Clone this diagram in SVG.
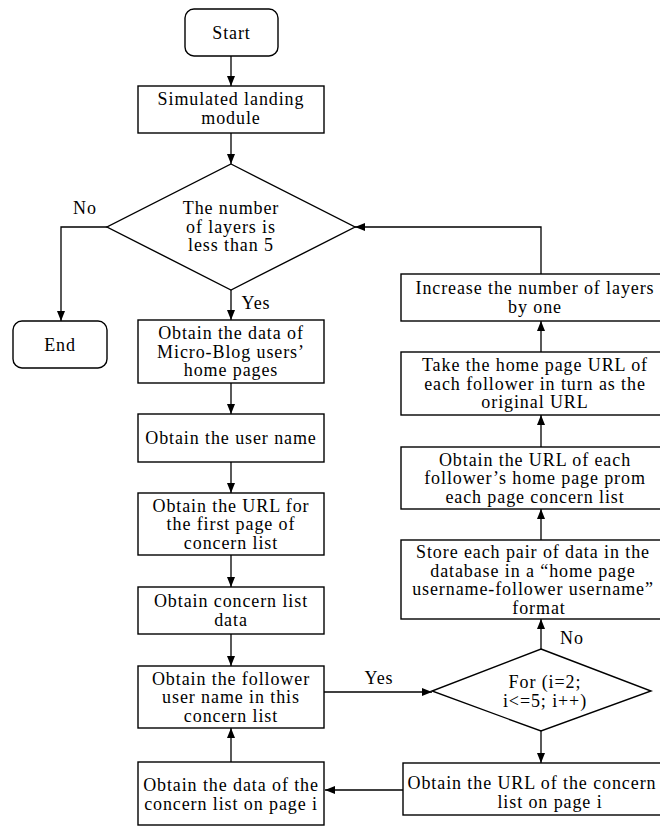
<svg xmlns="http://www.w3.org/2000/svg" width="660" height="827" viewBox="0 0 660 827">
<defs>
<marker id="ah" markerUnits="userSpaceOnUse" markerWidth="10" markerHeight="10" viewBox="0 0 10 10" refX="10" refY="5" orient="auto">
<path d="M0,1 L10,5 L0,9 Z" fill="#000"/>
</marker>
<style>
.b{fill:#fff;stroke:#000;stroke-width:1.4}
.c{fill:none;stroke:#000;stroke-width:1.3;marker-end:url(#ah)}
text{font-family:"Liberation Serif","Times New Roman",serif;font-size:18px;letter-spacing:0.9px;fill:#000;text-anchor:middle}
</style>
</defs>
<rect width="660" height="827" fill="#fff"/>

<g id="connectors">
<line class="c" x1="231" y1="56" x2="231" y2="86"/>
<line class="c" x1="231" y1="133" x2="231" y2="164"/>
<polyline class="c" points="107,227 61,227 61,321"/>
<line class="c" x1="231" y1="290" x2="231" y2="320"/>
<line class="c" x1="231" y1="383" x2="231" y2="414"/>
<line class="c" x1="231" y1="462" x2="231" y2="493"/>
<line class="c" x1="231" y1="555" x2="231" y2="587"/>
<line class="c" x1="231" y1="634" x2="231" y2="666"/>
<line class="c" x1="231" y1="762" x2="231" y2="728"/>
<line class="c" x1="324" y1="692" x2="432" y2="692"/>
<line class="c" x1="541" y1="731" x2="541" y2="763"/>
<line class="c" x1="403" y1="790" x2="325" y2="790"/>
<line class="c" x1="541" y1="649" x2="541" y2="619"/>
<line class="c" x1="541" y1="540" x2="541" y2="509"/>
<line class="c" x1="541" y1="447" x2="541" y2="415"/>
<line class="c" x1="541" y1="352" x2="541" y2="321"/>
<polyline class="c" points="541,274 541,227 355,227"/>
<text x="85" y="214">No</text>
<text x="256" y="309">Yes</text>
<text x="379" y="684">Yes</text>
<text x="572" y="644">No</text>
</g>

<g id="start">
<rect class="b" x="185" y="9" width="93" height="47" rx="9"/>
<text x="231.5" y="39">Start</text>
</g>
<g id="landing">
<rect class="b" x="138" y="86" width="186" height="47"/>
<text x="231" y="105">Simulated landing</text>
<text x="231" y="124">module</text>
</g>
<g id="layers-check">
<polygon class="b" points="231,164 355,227 231,290 107,227"/>
<text x="231" y="214">The number</text>
<text x="231" y="232.5">of layers is</text>
<text x="231" y="251">less than 5</text>
</g>
<g id="end">
<rect class="b" x="13" y="321" width="94" height="47" rx="9"/>
<text x="60" y="351">End</text>
</g>
<g id="home-pages">
<rect class="b" x="138" y="320" width="186" height="63"/>
<text x="231" y="339">Obtain the data of</text>
<text x="231" y="357.5">Micro-Blog users’</text>
<text x="231" y="376">home pages</text>
</g>
<g id="user-name">
<rect class="b" x="138" y="414" width="186" height="48"/>
<text x="231" y="444">Obtain the user name</text>
</g>
<g id="first-page-url">
<rect class="b" x="138" y="493" width="186" height="62"/>
<text x="231" y="511.5">Obtain the URL for</text>
<text x="231" y="530">the first page of</text>
<text x="231" y="548.5">concern list</text>
</g>
<g id="concern-data">
<rect class="b" x="138" y="587" width="186" height="47"/>
<text x="231" y="607">Obtain concern list</text>
<text x="231" y="626">data</text>
</g>
<g id="follower-name">
<rect class="b" x="138" y="666" width="186" height="62"/>
<text x="231" y="684.5">Obtain the follower</text>
<text x="231" y="703">user name in this</text>
<text x="231" y="721.5">concern list</text>
</g>
<g id="page-i-data">
<rect class="b" x="138" y="762" width="186" height="63"/>
<text x="231" y="791">Obtain the data of the</text>
<text x="231" y="810">concern list on page i</text>
</g>
<g id="for-loop">
<polygon class="b" points="541,649 651,691 541,731 432,691"/>
<text x="545" y="688">For (i=2;</text>
<text x="545" y="707">i&lt;=5; i++)</text>
</g>
<g id="page-i-url">
<rect class="b" x="403" y="763" width="294" height="52"/>
<text x="532" y="789">Obtain the URL of the concern</text>
<text x="550" y="808">list on page i</text>
</g>
<g id="store">
<rect class="b" x="401" y="540" width="268" height="79"/>
<text x="533" y="558">Store each pair of data in the</text>
<text x="533" y="576.5">database in a “home page</text>
<text x="533" y="595">username-follower username”</text>
<text x="539" y="613.5">format</text>
</g>
<g id="follower-urls">
<rect class="b" x="401" y="447" width="268" height="62"/>
<text x="535" y="465.5">Obtain the URL of each</text>
<text x="535" y="484">follower’s home page prom</text>
<text x="535" y="502.5">each page concern list</text>
</g>
<g id="original-url">
<rect class="b" x="401" y="352" width="268" height="63"/>
<text x="535" y="371">Take the home page URL of</text>
<text x="535" y="389.5">each follower in turn as the</text>
<text x="535" y="408">original URL</text>
</g>
<g id="increase">
<rect class="b" x="401" y="274" width="268" height="47"/>
<text x="535" y="294">Increase the number of layers</text>
<text x="535" y="313">by one</text>
</g>
</svg>
